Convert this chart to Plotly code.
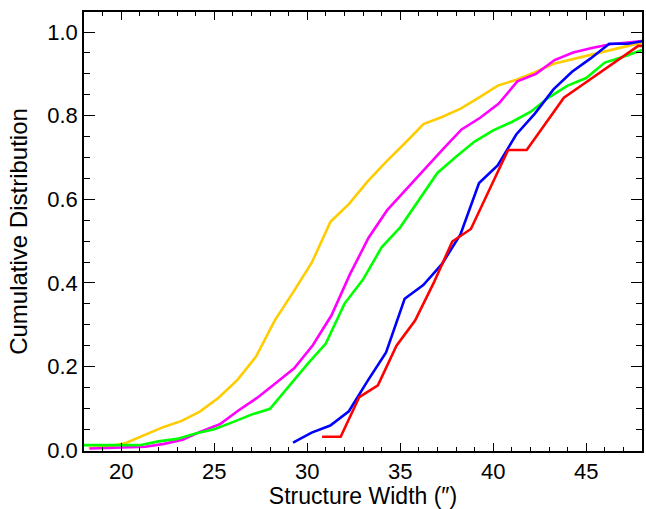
import plotly.graph_objects as go

# ---- data ----
yellow_x = [18.25 + k for k in range(31)]
yellow_y = [0.005, 0.008, 0.017, 0.036, 0.055, 0.070, 0.093, 0.126, 0.168, 0.224,
            0.310, 0.378, 0.449, 0.546, 0.589, 0.643, 0.690, 0.734, 0.780, 0.797,
            0.817, 0.844, 0.872, 0.886, 0.904, 0.924, 0.935, 0.946, 0.957, 0.967, 0.977]

magenta_x = [18.3 + k for k in range(31)]
magenta_y = [0.004, 0.005, 0.006, 0.008, 0.015, 0.025, 0.045, 0.062, 0.095, 0.125,
             0.160, 0.196, 0.251, 0.322, 0.421, 0.508, 0.574, 0.623, 0.670, 0.720,
             0.767, 0.795, 0.829, 0.882, 0.900, 0.933, 0.951, 0.962, 0.971, 0.975, 0.980]

green_x = [18 + k for k in range(31)]
green_y = [0.012, 0.012, 0.012, 0.012, 0.021, 0.027, 0.040, 0.050, 0.067, 0.085,
           0.099, 0.153, 0.205, 0.255, 0.350, 0.408, 0.485, 0.533, 0.599, 0.663,
           0.702, 0.738, 0.765, 0.785, 0.809, 0.844, 0.872, 0.890, 0.927, 0.941, 0.957]

blue_x = [29.24 + k for k in range(20)]
blue_y = [0.018, 0.042, 0.059, 0.093, 0.165, 0.234, 0.362, 0.395, 0.445, 0.516,
          0.639, 0.681, 0.755, 0.805, 0.863, 0.905, 0.937, 0.972, 0.972, 0.980]

red_x = [30.8 + k for k in range(19)]
red_y = [0.032, 0.032, 0.127, 0.155, 0.250, 0.310, 0.400, 0.499, 0.529, 0.623,
         0.718, 0.718, 0.780, 0.843, 0.874, 0.905, 0.936, 0.967, 0.967]

series = [
    (yellow_x, yellow_y, "#FFCC00"),
    (magenta_x, magenta_y, "#FF00FF"),
    (green_x, green_y, "#00FF00"),
    (blue_x, blue_y, "#0000FF"),
    (red_x, red_y, "#FF0000"),
]

x_ticks = [20, 25, 30, 35, 40, 45]
y_ticks = [0.0, 0.2, 0.4, 0.6, 0.8, 1.0]

fig = go.Figure()
for xs, ys, col in series:
    fig.add_trace(go.Scatter(x=xs, y=ys, mode="lines",
                             line=dict(color=col, width=2.6), showlegend=False,
                             cliponaxis=True))

FONT = "Liberation Sans, Arial, Helvetica, sans-serif"
axis_common = dict(
    showgrid=False, zeroline=False, showline=True, linecolor="black", linewidth=1.6,
    mirror="allticks", ticks="inside", tickcolor="black", tickwidth=1.2,
    tickfont=dict(family=FONT, size=22, color="black"),
)

fig.update_xaxes(
    range=[18, 48], tickvals=x_ticks, ticklen=8,
    minor=dict(ticks="inside", dtick=1, ticklen=4, tickcolor="black", tickwidth=1.2),
    title=dict(text="Structure Width (\u2033)", font=dict(family=FONT, size=23, color="black"),
               standoff=7),
    **axis_common,
)
fig.update_yaxes(
    range=[-0.002, 1.048], tickvals=y_ticks, tickformat=".1f", ticklen=11,
    minor=dict(ticks="inside", dtick=0.05, tick0=0, ticklen=6, tickcolor="black", tickwidth=1.2),
    title=dict(text="Cumulative Distribution", font=dict(family=FONT, size=24, color="black"),
               standoff=13),
    **axis_common,
)

fig.update_layout(
    width=646, height=509,
    margin=dict(l=84, r=2, t=12, b=57),
    paper_bgcolor="white", plot_bgcolor="white",
)

fig.write_html("out.html")
